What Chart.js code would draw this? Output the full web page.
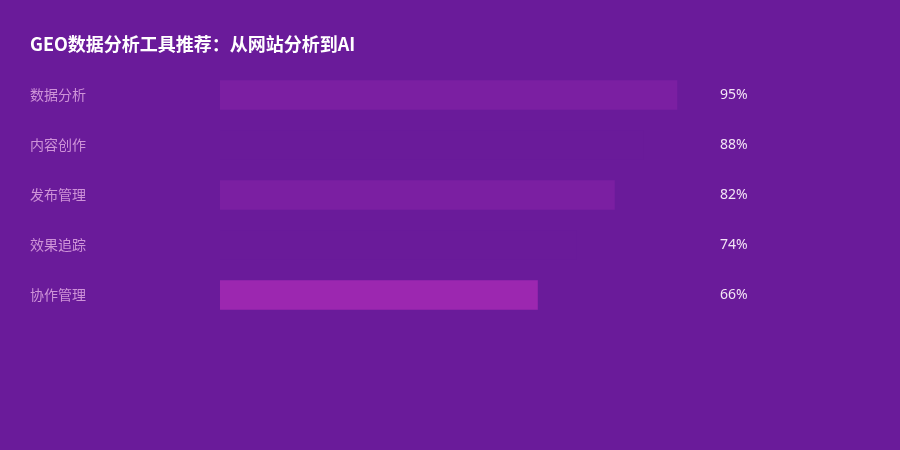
<!DOCTYPE html>
<html>
<head>
<meta charset="utf-8">
<script src="https://cdn.jsdelivr.net/npm/chart.js@4"></script>
<style>
  html, body { margin: 0; padding: 0; background: #6A1B9A; }
  #wrap { width: 900px; height: 450px; position: relative; }
</style>
</head>
<body>
<div id="wrap"><canvas id="chart"></canvas></div>
<script>
var TITLE = 'GEO数据分析工具推荐：从网站分析到AI';
var categories = ['数据分析', '内容创作', '发布管理', '效果追踪', '协作管理'];
var values = [95, 88, 82, 74, 66];

var BG = '#6A1B9A';
var BAR_COLOURS = ['#7B1FA2', '#6A1B9A', '#7B1FA2', '#6A1B9A', '#9C27B0'];
var CJK = "'Noto Sans CJK SC', 'Noto Sans', sans-serif";

/* Background + title */
var backdropPlugin = {
  id: 'backdrop',
  beforeDraw: function(chart) {
    var ctx = chart.ctx;
    ctx.save();
    ctx.fillStyle = BG;
    ctx.fillRect(0, 0, chart.width, chart.height);
    ctx.fillStyle = '#FFFFFF';
    ctx.font = 'bold 18px ' + CJK;
    ctx.textAlign = 'left';
    ctx.textBaseline = 'middle';
    ctx.fillText(TITLE, 30, 44);
    ctx.restore();
  }
};

/* Percent labels to the right of the plot area */
var valueLabelPlugin = {
  id: 'valueLabels',
  afterDatasetsDraw: function(chart) {
    var ctx = chart.ctx;
    var yScale = chart.scales.y;
    ctx.save();
    ctx.fillStyle = '#F3E5F5';
    ctx.font = "14px 'Noto Sans', sans-serif";
    ctx.textAlign = 'left';
    ctx.textBaseline = 'middle';
    values.forEach(function(v, i) {
      ctx.fillText(v + '%', chart.chartArea.right + 19, yScale.getPixelForValue(i) + 0.5);
    });
    ctx.restore();
  }
};

new Chart(document.getElementById('chart').getContext('2d'), {
  type: 'bar',
  data: {
    labels: categories,
    datasets: [{
      data: values,
      backgroundColor: BAR_COLOURS,
      borderWidth: 0,
      barThickness: 29
    }]
  },
  options: {
    indexAxis: 'y',
    responsive: true,
    maintainAspectRatio: false,
    animation: false,
    layout: {
      padding: { top: 70, left: 30, right: 199, bottom: 130 }
    },
    scales: {
      x: {
        display: false,
        min: 0,
        max: 100
      },
      y: {
        grid: { display: false },
        border: { display: false },
        ticks: {
          crossAlign: 'far',
          padding: 0,
          color: '#CE93D8',
          font: { family: CJK, size: 14 }
        },
        afterFit: function(scale) { scale.width = 190; }
      }
    },
    plugins: {
      legend: { display: false },
      tooltip: { enabled: false }
    }
  },
  plugins: [backdropPlugin, valueLabelPlugin]
});
</script>
</body>
</html>
